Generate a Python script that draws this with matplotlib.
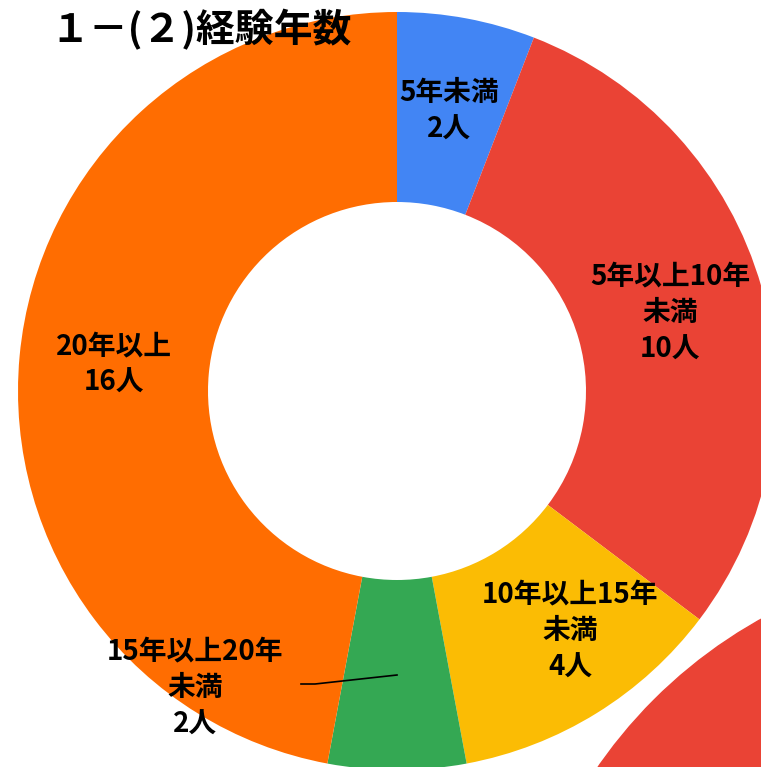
import numpy as np
import matplotlib
matplotlib.use("Agg")
import matplotlib.pyplot as plt
from matplotlib.patches import Circle

plt.rcParams['font.family'] = ['Noto Sans CJK JP', 'DejaVu Sans']

# data
title = "１－(２)経験年数"
categories = ["5年未満", "5年以上10年\n未満", "10年以上15年\n未満", "15年以上20年\n未満", "20年以上"]
counts = [2, 10, 4, 2, 16]
colors = ["#4285F4", "#EA4335", "#FBBC04", "#34A853", "#FF6D01"]

W, H = 761, 767
fig = plt.figure(figsize=(W / 100, H / 100), dpi=100)
ax = fig.add_axes([0, 0, 1, 1])

# donut geometry in pixel units (y measured upward)
cx, cy = 397, 376
R, ring = 379, 190

# part of a neighbouring chart peeking in at the bottom right
ax.add_patch(Circle((997, -276), 485, color="#EA4335", zorder=0))

wedges, _ = ax.pie(counts, colors=colors, startangle=90, counterclock=False,
                   radius=R, center=(cx, cy),
                   wedgeprops=dict(width=ring, linewidth=0))

lab_r = R - ring / 2
for i, (w, cat, n) in enumerate(zip(wedges, categories, counts)):
    mid = (w.theta1 + w.theta2) / 2
    r = lab_r
    if i == 2:
        # google charts pushes this one a little outward / toward the right
        mid += 4
        r += 12
    x = cx + r * np.cos(np.deg2rad(mid))
    y = cy + r * np.sin(np.deg2rad(mid))
    txt = f"{cat}\n{n}人"
    if i == 3:
        # small slice: label outside with a leader line
        tx, ty = x - 202, y - 13
        ax.plot([x, x - 82, x - 96], [y, y - 9, y - 9], color="black", lw=1.2, zorder=4)
        ax.text(tx, ty, txt, ha="center", va="center", fontsize=20, fontweight="bold",
                linespacing=1.4, zorder=5)
    else:
        ax.text(x, y, txt, ha="center", va="center", fontsize=20, fontweight="bold",
                linespacing=1.4, zorder=5)

ax.text(50, H - 30, title, ha="left", va="center", fontsize=28, fontweight="bold", zorder=6)

ax.set_xlim(0, W)
ax.set_ylim(0, H)
ax.set_aspect("auto")
ax.axis("off")

fig.savefig("out.png", dpi=100)
